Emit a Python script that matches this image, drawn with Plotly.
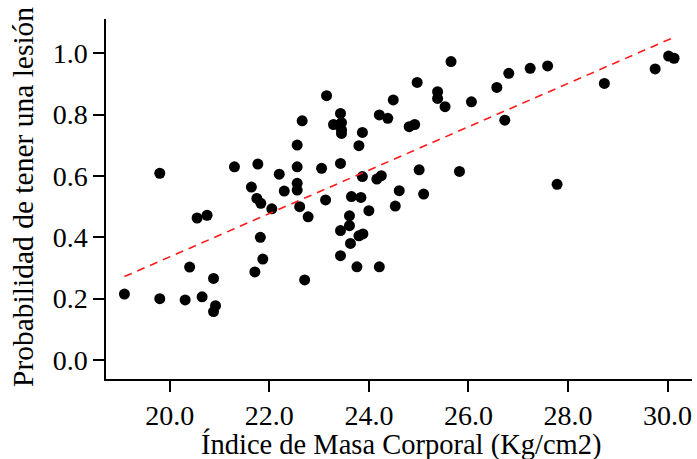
import plotly.graph_objects as go

# Data
imc = [19.09, 19.80, 19.80, 20.31, 20.40, 20.55, 20.65, 20.75, 20.88, 20.92,
       20.88, 21.30, 21.64, 21.71, 21.75, 21.77, 21.82, 21.83, 21.87, 22.05,
       22.20, 22.30, 22.56, 22.56, 22.56, 22.56, 22.61, 22.66, 22.71, 22.78,
       23.05, 23.13, 23.15, 23.29, 23.43, 23.45, 23.45, 23.45, 23.43, 23.43,
       23.43, 23.61, 23.61, 23.63, 23.65, 23.76, 23.80, 23.80, 23.84, 23.87,
       23.87, 23.88, 24.00, 24.16, 24.21, 24.21, 24.25, 24.38, 24.49, 24.53,
       24.61, 24.81, 24.92, 24.97, 25.01, 25.10, 25.38, 25.38, 25.53, 25.65,
       25.82, 26.06, 26.57, 26.73, 26.81, 27.24, 27.59, 27.78, 28.73, 29.75,
       30.02, 30.13]
prob = [0.215, 0.609, 0.200, 0.196, 0.303, 0.463, 0.206, 0.472, 0.266, 0.177,
        0.158, 0.630, 0.564, 0.287, 0.527, 0.639, 0.400, 0.511, 0.329, 0.493,
        0.606, 0.551, 0.701, 0.630, 0.576, 0.554, 0.500, 0.780, 0.261, 0.467,
        0.625, 0.522, 0.862, 0.768, 0.804, 0.774, 0.750, 0.739, 0.641, 0.422,
        0.340, 0.470, 0.438, 0.380, 0.533, 0.304, 0.405, 0.699, 0.530, 0.742,
        0.598, 0.411, 0.487, 0.590, 0.304, 0.799, 0.601, 0.788, 0.848, 0.502,
        0.552, 0.761, 0.768, 0.905, 0.620, 0.541, 0.875, 0.853, 0.826, 0.973,
        0.615, 0.842, 0.889, 0.782, 0.935, 0.951, 0.959, 0.573, 0.902, 0.949,
        0.991, 0.984]

# Fitted regression line
fit_slope = 0.0707
fit_intercept = -1.0777

x_ticks = [20.0, 22.0, 24.0, 26.0, 28.0, 30.0]
y_ticks = [0.0, 0.2, 0.4, 0.6, 0.8, 1.0]
x_title = "Índice de Masa Corporal (Kg/cm2)"
y_title = "Probabilidad de tener una lesión"

line_x = [min(imc), max(imc)]
line_y = [fit_intercept + fit_slope * v for v in line_x]

FONT = "Liberation Serif"
FS = 28

fig = go.Figure()
fig.add_trace(go.Scatter(
    x=imc, y=prob, mode="markers",
    marker=dict(color="black", size=11, line=dict(width=0)),
    showlegend=False, hoverinfo="skip"))
fig.add_trace(go.Scatter(
    x=line_x, y=line_y, mode="lines",
    line=dict(color="#ff1a1a", width=1.6, dash="8px,6px"),
    showlegend=False, hoverinfo="skip"))

axis_common = dict(
    tickformat=".1f", showgrid=False, zeroline=False,
    showline=True, linecolor="black", linewidth=1.5,
    ticks="outside", ticklen=11, tickwidth=1.5, tickcolor="black",
    tickfont=dict(family=FONT, size=FS, color="black"),
)

fig.update_layout(
    width=697, height=459,
    margin=dict(l=106, r=5, t=19, b=80),
    paper_bgcolor="white", plot_bgcolor="white",
    font=dict(family=FONT, size=FS, color="black"),
    xaxis=dict(range=[18.72, 30.49], tickvals=x_ticks, **axis_common),
    yaxis=dict(range=[-0.062, 1.112], tickvals=y_ticks, **axis_common),
    annotations=[
        dict(text=x_title, xref="paper", yref="paper", x=0.5, y=0,
             xanchor="center", yanchor="middle", xshift=2, yshift=-65,
             showarrow=False, font=dict(family=FONT, size=28.5, color="black")),
        dict(text=y_title, xref="paper", yref="paper", x=0, y=0.5,
             xanchor="center", yanchor="middle", xshift=-83, yshift=2,
             textangle=-90, showarrow=False,
             font=dict(family=FONT, size=29.5, color="black")),
    ],
)

fig.write_html("out.html")
